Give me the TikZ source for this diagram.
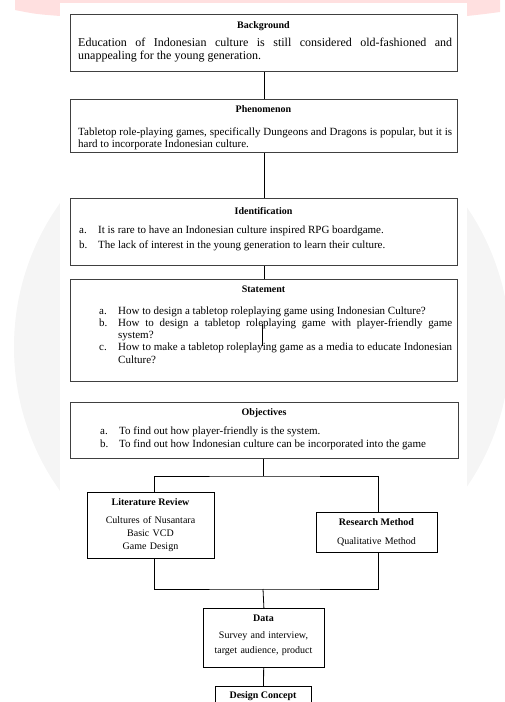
\documentclass[tikz,border=0pt]{standalone}
\usepackage{fontspec}
\setmainfont{Liberation Serif}
\newcommand{\itm}[2]{\noindent\hangindent=19pt\hangafter=1\makebox[19pt][l]{#1}#2\par}
\begin{document}
\begin{tikzpicture}[x=1pt,y=-1pt,
    box/.style={draw=black!75,line width=1.1pt,fill=white,inner sep=0pt,anchor=north west},
    sbox/.style={draw,line width=0.8pt,fill=white,inner sep=0pt,anchor=north west},
    ttl/.style={font=\fontsize{10}{12}\selectfont\bfseries,inner sep=0pt,anchor=base},
    sttl/.style={font=\fontsize{10}{12}\selectfont\bfseries,inner sep=0pt,anchor=base},
    body/.style={inner sep=0pt,anchor=base west,align=justify},
    sbody/.style={inner sep=0pt,anchor=base,align=center,font=\fontsize{10}{13}\selectfont},
    link/.style={line width=0.8pt}]
\useasboundingbox (0,0) rectangle (504,702);
% watermark behind the page
\fill[black!4] (262,347) circle (248);
\fill[red!12] (15,0) -- (500,0) -- (500,12) .. controls (485,14) .. (467,16) -- (60,16) .. controls (35,14) .. (15,10) -- cycle;
\fill[white] (60,3) rectangle (467,702);
% main boxes
\node[box,minimum width=387,minimum height=57] (bg) at (70,14) {};
\node[box,minimum width=387,minimum height=53] (phen) at (70,99) {};
\node[box,minimum width=387,minimum height=67] (ident) at (70,198) {};
\node[box,minimum width=387,minimum height=102] (stat) at (70,279) {};
\node[box,minimum width=388,minimum height=56] (obj) at (70,402) {};
% lower boxes
\node[sbox,minimum width=127,minimum height=66] (lit) at (87,492) {};
\node[sbox,minimum width=121,minimum height=40] (rm) at (316,512) {};
\node[sbox,minimum width=121,minimum height=59] (data) at (203,608) {};
\node[sbox,minimum width=96,minimum height=30] (dc) at (215,686) {};
% texts
\node[ttl] (bgT) at (263.5,28.5) {Background};
\node[body,text width=374,font=\fontsize{12}{13}\selectfont] (bgB) at (78,46.5)
  {Education of Indonesian culture is still considered old-fashioned and\linebreak unappealing for the young generation.};
\node[ttl] (phenT) at (263.5,112.5) {Phenomenon};
\node[body,text width=374,font=\fontsize{11}{12}\selectfont] (phenB) at (78,135)
  {Tabletop role-playing games, specifically Dungeons and Dragons is popular, but it is\linebreak hard to incorporate Indonesian culture.};
\node[ttl] (identT) at (263.5,214.5) {Identification};
\node[body,text width=372,font=\fontsize{11}{15}\selectfont] (identB) at (79,233)
  {\itm{a.}{It is rare to have an Indonesian culture inspired RPG boardgame.}
   \itm{b.}{The lack of interest in the young generation to learn their culture.}};
\node[ttl] (statT) at (263.5,292.5) {Statement};
\node[body,text width=353,font=\fontsize{11}{12.3}\selectfont] (statB) at (99,314)
  {\itm{a.}{How to design a tabletop roleplaying game using Indonesian Culture?}
   \itm{b.}{How to design a tabletop roleplaying game with player-friendly game\linebreak system?}
   \itm{c.}{How to make a tabletop roleplaying game as a media to educate Indonesian\linebreak Culture?}};
\node[ttl] (objT) at (264,415.5) {Objectives};
\node[body,text width=352,font=\fontsize{11}{13.5}\selectfont] (objB) at (100,434)
  {\itm{a.}{To find out how player-friendly is the system.}
   \itm{b.}{To find out how Indonesian culture can be incorporated into the game}};
\node[sttl] (litT) at (150.5,505.5) {Literature Review};
\node[sbody,text width=124] (litB) at (150.5,523.5) {Cultures of Nusantara\\Basic VCD\\Game Design};
\node[sttl] (rmT) at (376.5,525.5) {Research Method};
\node[sbody,text width=118] (rmB) at (376.5,544.5) {Qualitative Method};
\node[sttl] (dataT) at (263.5,621.5) {Data};
\node[sbody,text width=118,font=\fontsize{10}{15}\selectfont] (dataB) at (263.5,638) {Survey and interview,\\target audience, product};
\node[sttl] (dcT) at (263,698.5) {Design Concept};
% connectors
\draw[link] (bg) -- (phen);
\draw[link] (phen) -- (ident);
\draw[link] (ident) -- (stat);
\draw[link] (262,324) -- (262,346);
\coordinate (split) at (263,476);
\coordinate (merge) at (263,589);
\draw[link] (obj.south -| split) -- (split);
\draw[link] ([xshift=3.5]lit.north) |- (split) -| ([xshift=1.5]rm.north);
\draw[link] ([xshift=3.5]lit.south) |- (merge) -| ([xshift=1.5]rm.south);
\draw[link] (merge) -- (data.north);
\draw[link] (data) -- (dc);
\end{tikzpicture}
\end{document}
